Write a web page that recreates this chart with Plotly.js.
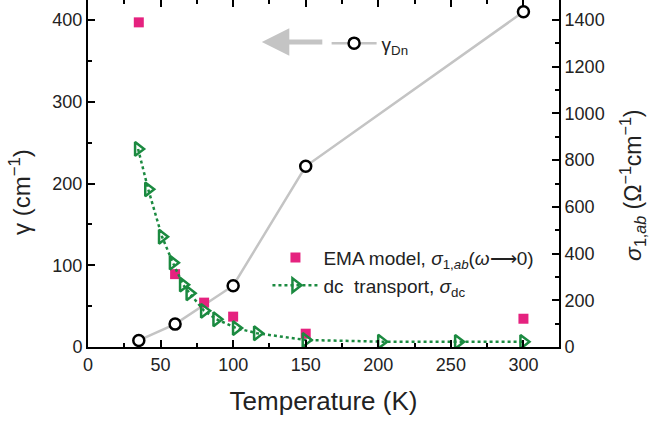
<!DOCTYPE html>
<html>
<head>
<meta charset="utf-8">
<script src="https://cdn.plot.ly/plotly-3.0.1.min.js"></script>
<style>html,body{margin:0;padding:0;background:#fff;}#chart{width:649px;height:425px;}</style>
</head>
<body>
<div id="chart"></div>
<script>
// gamma_Dn (left axis, cm^-1)
const tGamma = [35, 60, 100, 150, 300];
const gammaDn = [8, 28, 75, 221, 410];
// EMA model sigma_1,ab(omega->0) (right axis, Ohm^-1 cm^-1)
const tEma = [35, 60, 80, 100, 150, 300];
const sigmaEma = [1390, 312, 190, 130, 57, 121];
// dc transport sigma_dc (right axis)
const tDc = [34.5, 41.5, 51, 58.5, 65.5, 70, 80, 88.5, 102, 116.5, 150, 202, 255, 300];
const sigmaDc = [848, 675, 472, 361, 267, 230, 155, 119, 81, 59, 30, 23, 22, 22];

const FONT = 'Liberation Sans, Arial, Helvetica, sans-serif';
const GREEN = '#1b8a40';
const PINK = '#e5227f';

const traces = [
  {
    x: tGamma, y: gammaDn, type: 'scatter', mode: 'lines+markers',
    name: 'γ<sub>Dn</sub>', legend: 'legend2',
    line: {color: '#c4c4c4', width: 2.5},
    marker: {symbol: 'circle', size: 11, color: 'white', line: {color: 'black', width: 2.5}},
    xaxis: 'x', yaxis: 'y'
  },
  {
    x: tEma, y: sigmaEma, type: 'scatter', mode: 'markers',
    name: 'EMA model, <i>σ</i><sub>1,<i>ab</i></sub>(<i>ω</i>⟶0)', legendgroup: 'a',
    marker: {symbol: 'square', size: 10, color: PINK},
    xaxis: 'x', yaxis: 'y2'
  },
  {
    x: tDc, y: sigmaDc, type: 'scatter', mode: 'lines+markers',
    name: 'dc  transport, <i>σ</i><sub>dc</sub>', legendgroup: 'b',
    line: {color: GREEN, width: 2.5, dash: 'dot'},
    marker: {symbol: 'triangle-right-open', size: 12, color: GREEN, line: {color: GREEN, width: 2.5}},
    xaxis: 'x', yaxis: 'y2'
  }
];

const layout = {
  width: 649, height: 425,
  margin: {l: 88, r: 90, t: 0, b: 78},
  paper_bgcolor: 'white', plot_bgcolor: 'white',
  font: {family: FONT, size: 18, color: '#222'},
  showlegend: true,
  legend: {
    x: 0.381, y: 0.312, xanchor: 'left', yanchor: 'top',
    bgcolor: 'rgba(0,0,0,0)', font: {size: 19, family: FONT, color: '#222'},
    tracegroupgap: 14, traceorder: 'normal', itemwidth: 46
  },
  legend2: {
    x: 0.5066, y: 0.93, xanchor: 'left', yanchor: 'top',
    bgcolor: 'rgba(0,0,0,0)', font: {size: 19, family: FONT, color: '#222'},
    itemwidth: 45
  },
  xaxis: {
    range: [0, 324.5], dtick: 50, tick0: 0,
    showgrid: false, zeroline: false,
    showline: true, linecolor: 'black', linewidth: 2, mirror: 'ticks',
    ticks: 'inside', ticklen: 7, tickwidth: 2, tickcolor: 'black',
    minor: {dtick: 25, ticks: 'inside', ticklen: 4, tickwidth: 2, tickcolor: 'black', showgrid: false},
    tickfont: {size: 18},
    title: {text: 'Temperature (K)', font: {size: 26}, standoff: 18}
  },
  yaxis: {
    range: [0, 424.5], dtick: 100, tick0: 0,
    showgrid: false, zeroline: false,
    showline: true, linecolor: 'black', linewidth: 2,
    ticks: 'inside', ticklen: 7, tickwidth: 2, tickcolor: 'black',
    minor: {dtick: 50, ticks: 'inside', ticklen: 4, tickwidth: 2, tickcolor: 'black', showgrid: false},
    tickfont: {size: 18}
  },
  yaxis2: {
    overlaying: 'y', side: 'right',
    range: [0, 1485.75], dtick: 200, tick0: 0,
    showgrid: false, zeroline: false,
    showline: true, linecolor: 'black', linewidth: 2,
    ticks: 'inside', ticklen: 7, tickwidth: 2, tickcolor: 'black',
    minor: {dtick: 100, ticks: 'inside', ticklen: 4, tickwidth: 2, tickcolor: 'black', showgrid: false},
    tickfont: {size: 18}
  },
  annotations: [
    {
      xref: 'paper', yref: 'paper', x: 0.369, y: 0.879,
      ax: 62, ay: 0, text: '', showarrow: true,
      arrowhead: 2, arrowsize: 1.1, arrowwidth: 5, arrowcolor: '#c4c4c4', standoff: 0
    },
    {
      xref: 'paper', yref: 'paper', x: -0.1444, y: 0.4467,
      xanchor: 'center', yanchor: 'middle', textangle: -90, showarrow: false,
      text: 'γ (cm<sup>−1</sup>)', font: {size: 24, family: FONT, color: '#222'}
    },
    {
      xref: 'paper', yref: 'paper', x: 1.155, y: 0.4669,
      xanchor: 'center', yanchor: 'middle', textangle: -90, showarrow: false,
      text: '<i>σ</i><sub>1,<i>ab</i></sub> (Ω<sup>−1</sup>cm<sup>−1</sup>)', font: {size: 23, family: FONT, color: '#222'}
    }
  ]
};

Plotly.newPlot('chart', traces, layout, {displayModeBar: false, staticPlot: true});
</script>
</body>
</html>
